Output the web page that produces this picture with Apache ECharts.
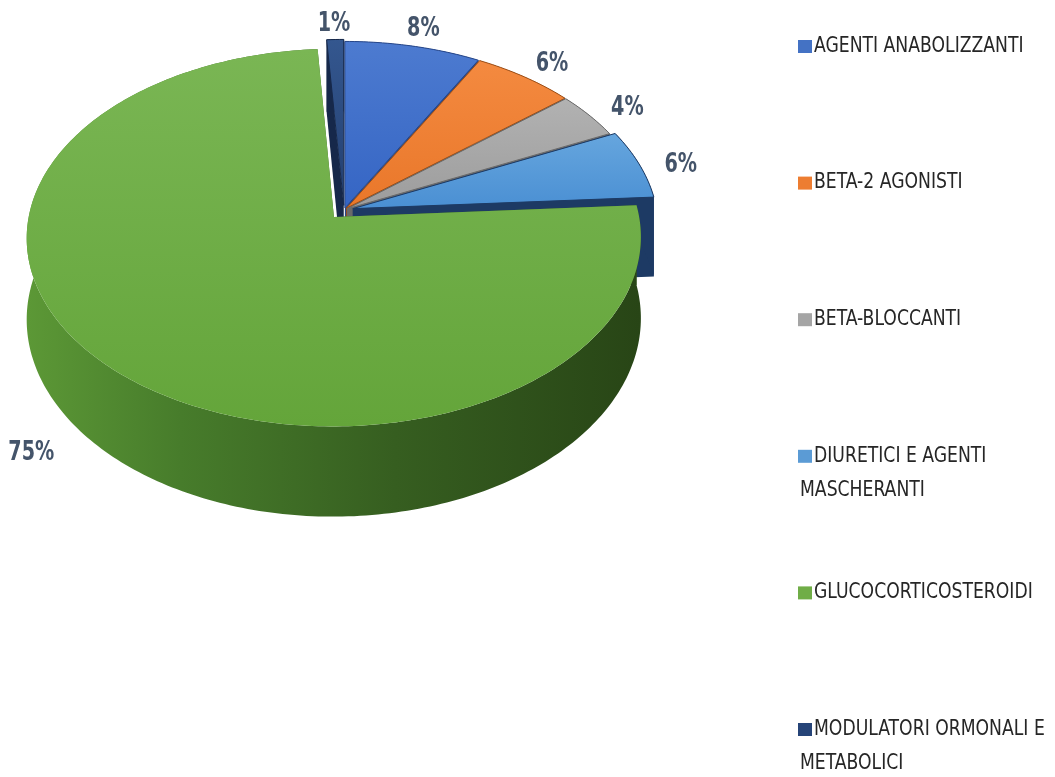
<!DOCTYPE html>
<html>
<head>
<meta charset="utf-8">
<script src="https://cdn.jsdelivr.net/npm/echarts@6/dist/echarts.min.js"></script>
<style>
html,body{margin:0;padding:0;background:#fff;}
#chart{width:1055px;height:777px;}
</style>
</head>
<body>
<div id="chart"></div>
<script>
// ---- data ----
const categories = ['AGENTI ANABOLIZZANTI','BETA-2 AGONISTI','BETA-BLOCCANTI','DIURETICI E AGENTI MASCHERANTI','GLUCOCORTICOSTEROIDI','MODULATORI ORMONALI E METABOLICI'];
const legendLabels = ['AGENTI ANABOLIZZANTI','BETA-2 AGONISTI','BETA-BLOCCANTI','DIURETICI E AGENTI\nMASCHERANTI','GLUCOCORTICOSTEROIDI','MODULATORI ORMONALI E\nMETABOLICI'];
const values = [8, 6, 4, 6, 75, 1];

// ---- style ----
const topColors = [['#4d7bd0','#3565c4'],['#f48a40','#e9772a'],['#b2b2b2','#9c9c9c'],['#66a6de','#4a8fd3'],['#7ab654','#64a53a'],['#34578f','#233f70']];
const sideColors = ['#27478a','#9c4f18','#6a6a6a','#1d3a64','#3b6622','#16284a'];
const legendColors = ['#4472C4','#ED7D31','#A5A5A5','#5B9BD5','#70AD47','#264478'];
const explode = [0.012, 0.012, 0.012, 0.03, 0.05, 0.025];

const CX = 344, CY = 210, A = 304, B = 185, K = 0.109, H = 80;
const FONT = '"DejaVu Sans Condensed", "DejaVu Sans", sans-serif';
const total = values.reduce((s, v) => s + v, 0);
const cum = [0];
values.forEach((v, i) => cum.push(cum[i] + v));

function proj(u, v, z) {
  const d = 1 + K * v;
  return [CX + A * u / d, CY + (-B * v + z * H) / d];
}
function geom(i, val) {
  const s = cum[i] / total * Math.PI * 2;
  const e = (cum[i] + val) / total * Math.PI * 2;
  const m = (s + e) / 2;
  const ex = explode[i];
  return {s, e, m, du: ex * Math.sin(m), dv: ex * Math.cos(m)};
}
function P(g, r, th, z) {
  return proj(r * Math.sin(th) + g.du, r * Math.cos(th) + g.dv, z);
}
function arc(g, z, rev) {
  const pts = [];
  const n = Math.max(2, Math.ceil((g.e - g.s) / (Math.PI / 180)));
  for (let k = 0; k <= n; k++) {
    const t = g.s + (g.e - g.s) * (rev ? (n - k) / n : k / n);
    pts.push(P(g, 1, t, z));
  }
  return pts;
}

function renderWalls(params, api) {
  const i = params.dataIndex;
  const g = geom(i, api.value(0));
  const side = sideColors[i];
  const children = [];
  [g.s, g.e].forEach(t => {
    children.push({type:'polygon', shape:{points:[P(g,0,t,0), P(g,1,t,0), P(g,1,t,1), P(g,0,t,1)]},
      style:{fill: side}});
  });
  const pts = arc(g, 0, false).concat(arc(g, 1, true));
  let fill = side;
  if (i === 4) {
    fill = new echarts.graphic.LinearGradient(0, 0, 1, 0, [
      {offset:0, color:'#5c9836'}, {offset:0.25, color:'#477c2b'},
      {offset:0.6, color:'#365e20'}, {offset:1, color:'#284516'}]);
  }
  children.push({type:'polygon', shape:{points: pts}, style:{fill}});
  return {type:'group', children};
}

function renderTops(params, api) {
  const i = params.dataIndex;
  const val = api.value(0);
  const g = geom(i, val);
  const pts = [P(g, 0, 0, 0)].concat(arc(g, 0, false));
  const tc = topColors[i];
  const children = [{
    type:'polygon', shape:{points: pts},
    style:{fill: new echarts.graphic.LinearGradient(0, 0, 0, 1, [{offset:0, color:tc[0]}, {offset:1, color:tc[1]}]),
      stroke: i === 4 ? 'none' : sideColors[i], lineWidth: 1}
  }];
  const front = Math.cos(g.m) < 0;
  const r = front ? 1.38 : 1.18;
  const lp = proj(r * Math.sin(g.m), r * Math.cos(g.m), front ? 0.3 : 0.1);
  children.push({type:'text', x: lp[0], y: lp[1], scaleX: 0.82,
    style:{text: Math.round(val / total * 100) + '%', fill:'#44546A',
      font:'bold 26px ' + FONT,
      align:'center', verticalAlign:'middle', textAlign:'center', textVerticalAlign:'middle'}});
  return {type:'group', children};
}

// legend built from categories
const legendGraphic = [];
legendLabels.forEach((lab, i) => {
  const y = 46 + i * 136.6;
  const lines = lab.split('\n');
  legendGraphic.push({type:'rect', x: 798, y: y - 6, shape:{width:14, height:13}, style:{fill: legendColors[i]}});
  lines.forEach((ln, j) => {
    legendGraphic.push({type:'text', x: j === 0 ? 814 : 800, y: y + j * 34, scaleX: 0.87,
      style:{text: ln, fill:'#262626', font:'22px ' + FONT,
        align:'left', verticalAlign:'middle', textAlign:'left', textVerticalAlign:'middle'}});
  });
});

const chart = echarts.init(document.getElementById('chart'), null, {renderer:'canvas'});
chart.setOption({
  backgroundColor:'#ffffff',
  animation:false,
  series:[
    {type:'custom', name:'walls', coordinateSystem:'none', z:1, silent:true,
      data: values.map((v, i) => ({name: categories[i], value: v})), renderItem: renderWalls},
    {type:'custom', name:'tops', coordinateSystem:'none', z:2, silent:true,
      data: values.map((v, i) => ({name: categories[i], value: v})), renderItem: renderTops}
  ],
  graphic: legendGraphic
});
</script>
</body>
</html>
